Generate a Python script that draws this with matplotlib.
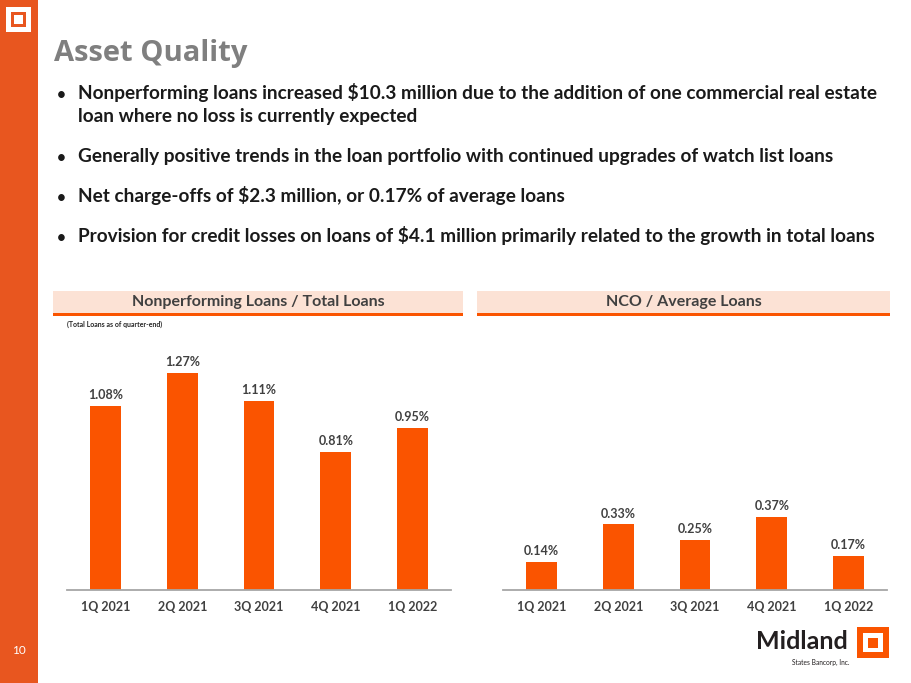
import matplotlib
matplotlib.use("Agg")
import matplotlib.pyplot as plt
from matplotlib.patches import Rectangle

#Data
quarters = ["1Q 2021", "2Q 2021", "3Q 2021", "4Q 2021", "1Q 2022"]
npl_ratio = [1.08, 1.27, 1.11, 0.81, 0.95]
nco_ratio = [0.14, 0.33, 0.25, 0.37, 0.17]

bullets = [
    ["Nonperforming loans increased $10.3 million due to the addition of one commercial real estate",
     "loan where no loss is currently expected"],
    ["Generally positive trends in the loan portfolio with continued upgrades of watch list loans"],
    ["Net charge-offs of $2.3 million, or 0.17% of average loans"],
    ["Provision for credit losses on loans of $4.1 million primarily related to the growth in total loans"],
]

#Colors
orange = "#FA5400"
side_orange = "#E8561F"
pink = "#FCE2D5"
dark = "#404040"

W, H = 911, 683
plt.rcParams["font.family"] = ["Lato", "DejaVu Sans"]

fig = plt.figure(figsize=(W / 100, H / 100), dpi=100)

def fx(x):
    return x / W

def fy(y):
    return 1 - y / H

def rect(x0, y0, x1, y1, color):
    fig.patches.append(Rectangle((fx(x0), fy(y1)), fx(x1) - fx(x0), fy(y0) - fy(y1),
                                 transform=fig.transFigure, color=color, lw=0, zorder=0))

#Side bar and corner logo
rect(0, 0, 38, H, side_orange)
rect(6, 7, 31, 32, "white")
rect(11, 12, 26, 27, side_orange)
rect(14, 15, 23, 24, "white")
fig.text(fx(19), fy(654), "10", color="white", fontsize=8.5, ha="center", va="baseline")

#Title
fig.text(fx(54), fy(61), "Asset Quality", color="#7F7F7F", fontsize=21, fontweight="bold",
         family=["Open Sans", "DejaVu Sans"], va="baseline")

#Bullets
bullet_y = [99, 162, 202, 242]
for by, lines in zip(bullet_y, bullets):
    fig.text(fx(57), fy(by), "•", color="#1A1A1A", fontsize=11, fontweight="bold", va="baseline")
    for k, line in enumerate(lines):
        fig.text(fx(78), fy(by + 23 * k), line, color="#1A1A1A", fontsize=13.7,
                 fontweight="bold", va="baseline")

#Panel headers
headers = [(53, 463, "Nonperforming Loans / Total Loans"), (477, 890, "NCO / Average Loans")]
for x0, x1, txt in headers:
    rect(x0, 291, x1, 313, pink)
    rect(x0, 313, x1, 316, orange)
    fig.text(fx((x0 + x1) / 2), fy(302), txt, color=dark, fontsize=11.5, fontweight="bold",
             ha="center", va="center")
fig.text(fx(67), fy(327), "(Total Loans as of quarter-end)", color="#262626", fontsize=5,
         fontweight="bold", va="baseline")

#Charts
charts = [
    (67, 451, npl_ratio, 250 / 170.6),
    (503, 887, nco_ratio, 250 / 198.5),
]
for x0, x1, values, ymax in charts:
    ax = fig.add_axes([fx(x0), fy(590), fx(x1) - fx(x0), fy(340) - fy(590)])
    ax.bar(range(len(quarters)), values, width=0.4, color=orange, zorder=2)
    for i, v in enumerate(values):
        ax.annotate(f"{v:.2f}%", (i, v), xytext=(0, 5), textcoords="offset points",
                    ha="center", va="baseline", color=dark, fontsize=9, fontweight="bold")
    ax.set_xlim(-0.5, len(quarters) - 0.5)
    ax.set_ylim(0, ymax)
    ax.set_xticks(range(len(quarters)))
    ax.set_xticklabels(quarters, fontsize=9, fontweight="bold", color=dark)
    ax.tick_params(axis="x", length=0, pad=8)
    ax.set_yticks([])
    for s in ["top", "left", "right"]:
        ax.spines[s].set_visible(False)
    ax.spines["bottom"].set_color("#A6A6A6")
    ax.spines["bottom"].set_linewidth(1.3)
    ax.patch.set_alpha(0)

#Midland logo
fig.text(fx(756), fy(649), "Midland", color="#231F20", fontsize=18, fontweight="bold",
         va="baseline")
fig.text(fx(850), fy(665), "States Bancorp, Inc.", color="#231F20", fontsize=4.8,
         ha="right", va="baseline")
rect(857, 627, 889, 658, orange)
rect(863, 633, 883, 652, "white")
rect(868, 638, 878, 648, orange)

fig.savefig("out.png", dpi=100)
